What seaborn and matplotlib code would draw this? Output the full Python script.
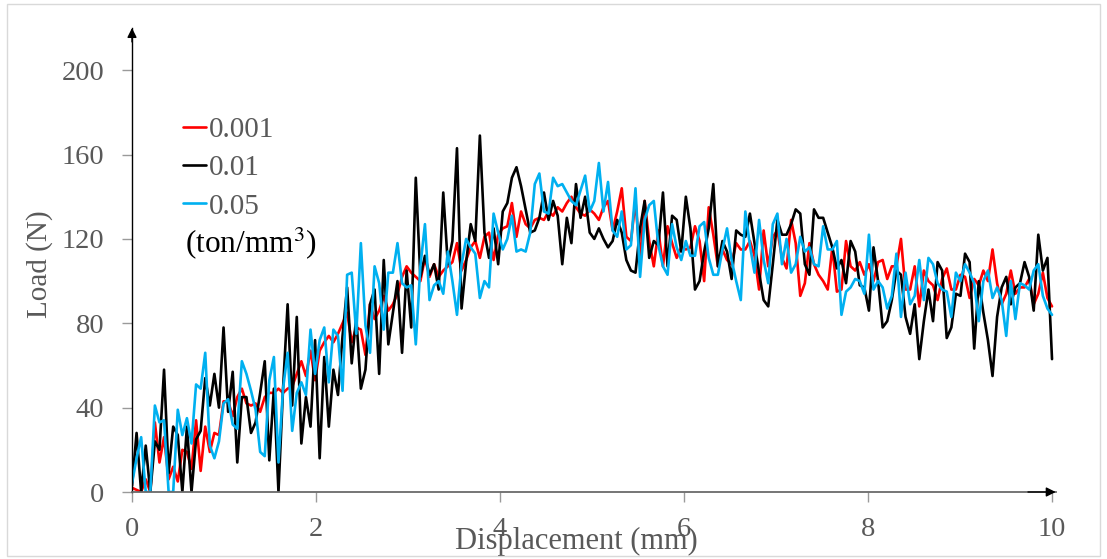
import numpy as np
import pandas as pd
import seaborn as sns
import matplotlib
matplotlib.use("Agg")
import matplotlib.pyplot as plt
from matplotlib.patches import Rectangle
from matplotlib.lines import Line2D

# ---------------- data ----------------
series_names = ["0.001", "0.01", "0.05"]
series_colors = ["#ff0000", "#000000", "#00b0f0"]

load_0001 = [
    2, 1, 0, 6, 0, 33, 14, 26, 6, 12, 5, 20, 19, 11, 34, 10, 31, 19, 28, 27,
    43, 43, 36, 45, 49, 42, 41, 42, 38, 45, 47, 47, 49, 47, 49, 50, 56, 62, 55, 67,
    53, 67, 71, 74, 71, 75, 80, 85, 71, 78, 77, 65, 89, 82, 86, 93, 86, 89, 94,
    102, 107, 104, 102, 100, 111, 102, 108, 102, 105, 107, 109, 118, 105, 110,
    116, 119, 111, 121, 123, 110, 122, 125, 126, 137, 121, 133, 127, 125, 129,
    130, 129, 133, 131, 135, 133, 137, 140, 135, 132, 131, 134, 132, 129, 135,
    138, 124, 133, 144, 121, 119, 138, 110, 138, 119, 107, 124, 107, 126, 118,
    111, 116, 115, 116, 126, 119, 100, 135, 122, 107, 115, 110, 108, 118, 115, 115, 119,
    112, 96, 124, 107, 121, 124, 111, 106, 129, 118, 93, 99, 118, 108, 103,
    100, 96, 116, 95, 96, 119, 107, 105, 109, 103, 108, 100, 109, 110, 101,
    107, 107, 120, 96, 96, 107, 88, 105, 100, 98, 91, 101, 106, 96, 96,
    103, 102, 92, 101, 98, 105, 100, 115, 99, 89, 94, 105, 94, 97, 97,
    101, 89, 94, 104, 92, 88,
]

load_001 = [
    3, 28, 0, 22, 0, 24, 20, 58, 9, 31, 27, 0, 31, 0, 25, 29, 54, 41, 56, 40,
    78, 38, 57, 14, 45, 45, 28, 33, 47, 62, 15, 49, 0, 49, 89, 41, 83, 23, 45, 31,
    72, 16, 64, 31, 58, 46, 74, 97, 61, 83, 49, 58, 89, 96, 56, 110, 70, 85,
    100, 66, 105, 78, 149, 102, 112, 103, 108, 96,
    142, 108, 119, 163, 87, 109, 127, 119, 169, 123, 111, 125, 108, 133, 137,
    149, 154, 145, 134, 123, 124, 130, 142, 129, 138, 131, 108, 130, 118, 146,
    130, 140, 123, 120, 125,
    120, 116, 119, 129, 123, 110, 105, 104, 125, 138, 111, 119, 117, 142, 107,
    131, 129, 114, 140, 125, 96, 100, 114, 125, 146, 107, 119, 114, 101, 124,
    122, 121, 132,
    118, 104, 91, 88, 108, 129, 122, 122, 127, 134, 132, 108, 103, 134, 130,
    130, 123, 116, 106, 110, 99, 119, 114, 98, 97, 86, 116, 100, 78, 81,
    91, 105, 103, 83, 75, 89, 63, 81, 96, 81, 109, 105, 73, 78, 94,
    93, 113, 109, 68, 100, 85, 72, 55, 83, 97, 102, 89, 97, 99, 109,
    102, 86, 122, 105, 111, 63,
]

load_005 = [
    4, 16, 26, 0, 0, 41, 33, 34, 0, 0, 39, 27, 35, 23, 51, 49, 66, 22, 16, 24,
    42, 44, 32, 30, 62, 56, 48, 39, 19, 17, 53, 64, 14, 49, 66, 29, 47, 52, 46, 77,
    56, 72, 78, 52, 77, 74, 48,
    103, 104, 75, 118, 79, 66, 107, 99, 77, 104, 104, 118, 99, 97, 98, 70, 107,
    127, 91, 98, 100,
    94, 114, 100, 84, 108, 120, 116, 113, 92, 100, 97, 132, 123, 115, 120, 131,
    114, 115, 114, 123, 146, 151, 133, 132, 149, 145, 146, 142, 138, 136, 143,
    150, 133, 138,
    156, 133, 147, 124, 121, 133, 115, 117, 144, 102, 129, 136, 138, 117, 107,
    103, 127, 116, 110, 119, 112, 112, 126, 128, 111, 103, 103, 115, 125, 110,
    100, 91, 133, 117,
    104, 129, 110, 99, 127, 132, 108, 120, 104, 108, 121, 114, 116, 108, 107,
    126, 115, 115, 119, 84, 95, 97, 101, 100, 94, 122, 96, 100, 97, 87,
    93, 113, 83, 104, 89, 93, 110, 91, 111, 108, 99, 96, 95, 83, 104,
    100, 108, 104, 99, 81, 100, 105, 92, 97, 91, 74, 100, 82, 99, 98,
    96, 105, 108, 93, 87, 84,
]

x_start, x_end = 0.0, 10.0
x_ticks = [0, 2, 4, 6, 8, 10]
y_ticks = [0, 40, 80, 120, 160, 200]
x_label = "Displacement (mm)"
y_label = "Load (N)"
unit_text = "(ton/mm$^{3}$)"

# ---------------- build long-form table ----------------
frames = []
for name, vals in zip(series_names, [load_0001, load_001, load_005]):
    disp = np.linspace(x_start, x_end, len(vals))
    frames.append(pd.DataFrame({"disp": disp, "load": vals, "density": name}))
df = pd.concat(frames, ignore_index=True)

# ---------------- style ----------------
sns.set_theme(style="white")
plt.rcParams["font.family"] = ["Liberation Serif", "DejaVu Serif"]
plt.rcParams["mathtext.fontset"] = "stix"

W, H = 1107, 559
fig = plt.figure(figsize=(W / 100, H / 100), dpi=100)
fig.patch.set_facecolor("white")
ax = fig.add_axes([132 / W, 67 / H, 923.7 / W, 464 / H])

sns.lineplot(
    data=df, x="disp", y="load", hue="density",
    palette=dict(zip(series_names, series_colors)),
    hue_order=series_names, estimator=None, sort=False,
    linewidth=1.9, legend=False, ax=ax,
)

ax.set_xlim(0, 10.04)
ax.set_ylim(0, 220)
ax.set_xticks(x_ticks)
ax.set_xticklabels([str(t) for t in x_ticks])
ax.set_yticks(y_ticks)
ax.set_yticklabels([str(t) for t in y_ticks])

for s in ["top", "right"]:
    ax.spines[s].set_visible(False)
ax.spines["left"].set_color("black")
ax.spines["left"].set_linewidth(1.0)
ax.spines["bottom"].set_color("#6a6a6a")
ax.spines["bottom"].set_linewidth(1.3)

ax.tick_params(axis="both", which="major", bottom=True, left=True,
               direction="out", length=7, width=1, color="#9a9a9a",
               labelcolor="#595959", labelsize=20.5)
ax.tick_params(axis="y", pad=13)
ax.tick_params(axis="x", pad=11)

ax.set_xlabel(x_label, fontsize=22, color="#595959", va="center")
ax.xaxis.set_label_coords((576 - 132) / 923.7, (492 - 541) / 464)
ax.set_ylabel(y_label, fontsize=21, color="#595959", ha="center", va="center")
ax.yaxis.set_label_coords((40 - 132) / 923.7, (492 - 264) / 464)

# axis arrowheads
ax.annotate("", xy=(0, 1), xytext=(0, 0.97), xycoords="axes fraction",
            arrowprops=dict(arrowstyle="-|>", color="black", lw=1,
                            mutation_scale=14, shrinkA=0, shrinkB=0))
ax.annotate("", xy=(1, 0), xytext=(0.97, 0), xycoords="axes fraction",
            arrowprops=dict(arrowstyle="-|>", color="black", lw=1,
                            mutation_scale=14, shrinkA=0, shrinkB=0))

# legend
handles = [Line2D([], [], color=c, lw=1.9) for c in series_colors]
leg = ax.legend(handles, series_names, loc="upper left",
                bbox_to_anchor=(183 / W, 1 - 117 / H), bbox_transform=fig.transFigure,
                frameon=False, handlelength=0.78, handletextpad=0.1,
                labelspacing=0.4, borderpad=0, borderaxespad=0, fontsize=21)
for t in leg.get_texts():
    t.set_color("#595959")
fig.text(185 / W, 1 - 243 / H, unit_text, fontsize=22.5, color="black",
         ha="left", va="center")

# light frame around the picture
fig.patches.append(Rectangle((7 / W, 3 / H), (1100 - 7) / W, (556 - 4) / H,
                             transform=fig.transFigure, fill=False,
                             edgecolor="#d9d9d9", lw=1))

fig.savefig("out.png", dpi=100)
